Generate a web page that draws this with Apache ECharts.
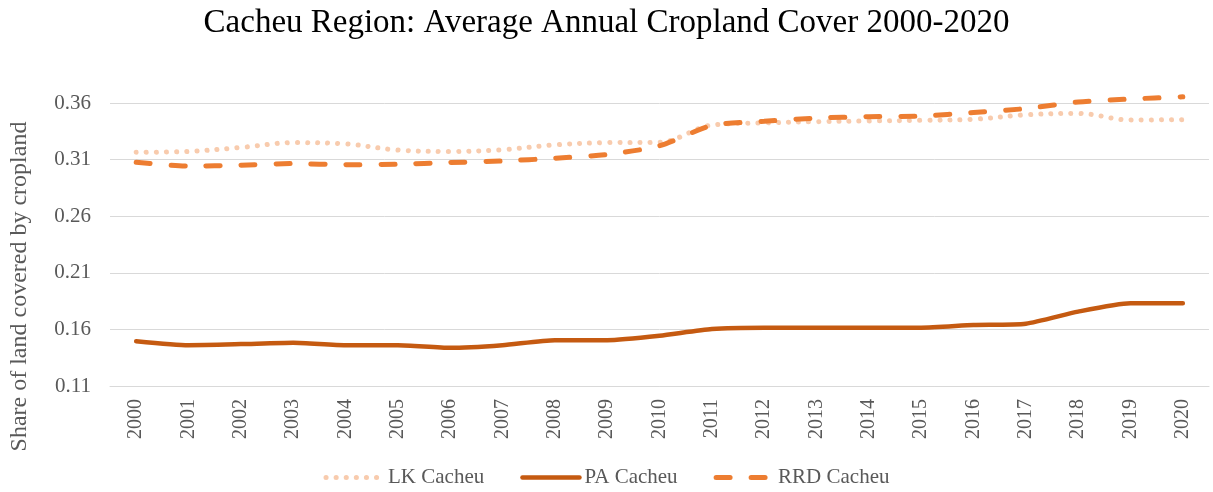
<!DOCTYPE html>
<html><head><meta charset="utf-8">
<script src="https://cdn.jsdelivr.net/npm/echarts@6/dist/echarts.min.js"></script>
<style>html,body{margin:0;padding:0;background:#fff}#c{width:1213px;height:492px}</style>
</head><body><div id="c"></div>
<script>
const years = ['2000','2001','2002','2003','2004','2005','2006','2007','2008','2009','2010','2011','2012','2013','2014','2015','2016','2017','2018','2019','2020'];
const lkCacheu = [0.3164,0.3172,0.3207,0.3250,0.3239,0.3184,0.3172,0.3187,0.3230,0.3250,0.3253,0.3405,0.3424,0.3435,0.3441,0.3447,0.3456,0.3496,0.3508,0.3450,0.3453];
const paCacheu = [0.1496,0.1461,0.1470,0.1482,0.1461,0.1461,0.1437,0.1461,0.1505,0.1505,0.1544,0.1603,0.1615,0.1615,0.1615,0.1615,0.1638,0.1650,0.1757,0.1831,0.1831];
const rrdCacheu = [0.3077,0.3042,0.3051,0.3065,0.3054,0.3060,0.3074,0.3088,0.3112,0.3146,0.3222,0.3401,0.3438,0.3467,0.3479,0.3484,0.3516,0.3551,0.3609,0.3635,0.3655];
const yTicks = [0.11,0.16,0.21,0.26,0.31,0.36];

const font = 'Liberation Serif';
const lkStyle = {color: '#F8CBAD', width: 5, type: [0.1, 10], cap: 'round', opacity: 1};
const paStyle = {color: '#C55A11', width: 4.5, cap: 'round', opacity: 1};
const rrdStyle = {color: '#ED7D31', width: 5, type: [14, 21], cap: 'round', opacity: 1};
const chart = echarts.init(document.getElementById('c'));
chart.setOption({
  animation: false,
  textStyle: {fontFamily: font},
  title: {text: 'Cacheu Region: Average Annual Cropland Cover 2000-2020', left: 'center', top: 2,
    textStyle: {fontFamily: font, fontSize: 33, fontWeight: 'normal', color: '#000'}},
  legend: {top: 462, left: 'center', itemWidth: 57, itemHeight: 14, itemGap: 36,
    itemStyle: {opacity: 0, borderWidth: 0},
    textStyle: {fontFamily: font, fontSize: 21, color: '#595959'},
    data: [
      {name: 'LK Cacheu', lineStyle: lkStyle},
      {name: 'PA Cacheu', lineStyle: paStyle},
      {name: 'RRD Cacheu', lineStyle: rrdStyle}
    ]},
  grid: {left: 107, right: 4, top: 103, bottom: 106, containLabel: false},
  xAxis: {type: 'category', data: years, boundaryGap: true,
    axisLine: {show: true, lineStyle: {color: '#d9d9d9', width: 1}},
    axisTick: {show: false},
    axisLabel: {rotate: 90, fontFamily: font, fontSize: 20, color: '#595959', margin: 13}},
  yAxis: {type: 'value', min: yTicks[0], max: yTicks[yTicks.length-1], interval: 0.05,
    name: 'Share of land covered by cropland', nameLocation: 'middle', nameGap: 78,
    nameTextStyle: {fontFamily: font, fontSize: 24, color: '#595959', padding: [0, 84, 0, 0]},
    axisLine: {show: false}, axisTick: {show: false},
    splitLine: {lineStyle: {color: '#d9d9d9', width: 1}},
    axisLabel: {fontFamily: font, fontSize: 21, color: '#595959', margin: 19,
      formatter: v => v.toFixed(2)}},
  series: [
    {name: 'LK Cacheu', type: 'line', data: lkCacheu, smooth: 0.35, symbol: 'none', clip: false,
      color: '#F8CBAD', lineStyle: lkStyle},
    {name: 'PA Cacheu', type: 'line', data: paCacheu, smooth: 0.2, symbol: 'none', clip: false,
      color: '#C55A11', lineStyle: paStyle},
    {name: 'RRD Cacheu', type: 'line', data: rrdCacheu, smooth: 0.25, symbol: 'none', clip: false,
      color: '#ED7D31', lineStyle: rrdStyle}
  ]
});
</script></body></html>
